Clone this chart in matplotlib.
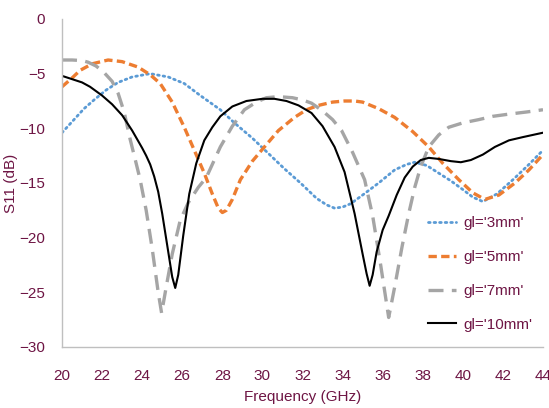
import matplotlib
matplotlib.use("Agg")
import matplotlib.pyplot as plt

# ---- data ----
x_3mm = [20, 20.6, 21.1, 21.6, 22.2, 22.8, 23.5, 24.4, 25.3, 26.1, 26.9, 27.9, 28.6, 29.5,
         30.3, 31.1, 31.9, 32.7, 33.2, 33.6, 34.0, 34.4, 35.0, 35.8, 36.6, 37.2, 37.6, 38.2, 38.8, 39.4, 40.0,
         40.5, 41.0, 41.7, 42.5, 43.3, 44.0]
y_3mm = [-10.4, -9.2, -8.2, -7.4, -6.5, -5.8, -5.3, -5.0, -5.3, -5.9, -7.0, -8.3, -9.5, -10.9,
         -12.3, -13.7, -15.0, -16.4, -17.0, -17.3, -17.2, -16.9, -16.1, -15.0, -13.8, -13.3, -13.1, -13.4, -14.1, -14.8, -15.6,
         -16.3, -16.7, -16.0, -14.7, -13.3, -12.0]

x_5mm = [20, 20.5, 20.9, 21.5, 22.3, 23.0, 23.8, 24.4, 24.9, 25.5, 26.1, 26.6, 27.1, 27.5,
         27.8, 28.0, 28.2, 28.5, 28.9, 29.5, 30.1, 30.8, 31.6, 32.2, 32.8, 33.5, 34.1, 34.6, 35.0, 35.8,
         36.6, 37.5, 38.3, 39.0, 39.8, 40.5, 41.1, 41.8, 42.6, 43.3, 44.0]
y_5mm = [-6.2, -5.4, -4.7, -4.1, -3.75, -3.9, -4.4, -5.1, -5.9, -7.6, -9.9, -12.0, -14.1, -16.0,
         -17.3, -17.7, -17.5, -16.5, -14.7, -13.0, -11.7, -10.2, -9.0, -8.3, -7.9, -7.6, -7.5, -7.5, -7.6, -8.2,
         -9.0, -10.3, -11.7, -13.2, -14.7, -15.9, -16.5, -16.1, -15.0, -13.8, -12.4]

x_7mm = [20, 20.5, 21.0, 21.3, 21.7, 22.1, 22.5, 22.8, 23.1, 23.4, 23.7, 23.9, 24.2, 24.5,
         24.8, 24.97, 25.2, 25.5, 25.9, 26.3, 26.8, 27.2, 27.5, 27.9, 28.5, 29.1, 29.7, 30.2,
         30.8, 31.5, 32.0, 32.45, 33.0, 33.5, 33.95, 34.5, 35.1, 35.5, 35.9, 36.3, 36.6, 36.97,
         37.3, 37.6, 37.9, 38.3, 38.8, 39.3, 40.0, 40.8, 41.5, 42.3, 43.2, 44.0]
y_7mm = [-3.75, -3.75, -3.8, -3.95, -4.3, -4.9, -5.7, -6.8, -8.5, -11.0, -13.2, -14.7, -17.5, -21.0,
         -25.0, -26.9, -24.5, -21.5, -18.4, -16.8, -15.4, -14.5, -13.3, -11.7, -9.8, -8.3, -7.6, -7.2,
         -7.1, -7.2, -7.4, -7.7, -8.4, -9.2, -10.2, -12.2, -14.7, -18.0, -22.5, -27.3, -24.5, -20.8,
         -17.8, -15.4, -13.5, -11.7, -10.6, -9.9, -9.5, -9.2, -8.9, -8.7, -8.5, -8.3]

x_10mm = [20, 21.0, 21.4, 22.0, 22.5, 23.0, 23.5, 24.0, 24.2, 24.4, 24.6, 24.8, 25.0, 25.25,
          25.5, 25.65, 25.8, 26.05, 26.35, 26.7, 27.1, 27.5, 27.9, 28.5, 29.2, 30.0, 30.6, 31.2,
          31.8, 32.45, 33.0, 33.6, 34.1, 34.6, 35.0, 35.2, 35.35, 35.5, 35.7, 36.0, 36.3, 36.7,
          37.1, 37.5, 37.9, 38.3, 38.8, 39.4, 39.9, 40.4, 41.0, 41.6, 42.3, 43.0, 43.5, 44.0]
y_10mm = [-5.2, -5.8, -6.2, -7.0, -7.8, -8.8, -10.2, -11.8, -12.5, -13.3, -14.4, -15.8, -17.8, -20.7,
          -23.6, -24.6, -23.4, -19.8, -16.0, -13.2, -11.1, -9.9, -8.9, -8.0, -7.5, -7.3, -7.3, -7.5,
          -7.9, -8.6, -9.8, -11.7, -14.0, -17.8, -21.5, -23.3, -24.4, -23.4, -21.3, -19.3, -18.0, -16.1,
          -14.5, -13.5, -12.9, -12.7, -12.8, -13.0, -13.1, -12.9, -12.4, -11.7, -11.1, -10.8, -10.6, -10.4]

labels = ["gl='3mm'", "gl='5mm'", "gl='7mm'", "gl='10mm'"]
x_ticks = list(range(20, 45, 2))
y_ticks = list(range(-30, 1, 5))

# ---- style ----
TXT = "#6E1544"
plt.rcParams['font.family'] = ['Liberation Sans', 'DejaVu Sans']
FS = 11

fig = plt.figure(figsize=(5.49, 4.08), dpi=100)
ax = fig.add_axes([62/549, 61/408, 481/549, 328/408])

ax.plot(x_3mm, y_3mm, color="#5B9BD5", lw=2.0, linestyle=(0, (0.6, 1.4)),
        dash_capstyle='round', label=labels[0])
ax.plot(x_5mm, y_5mm, color="#ED7D31", lw=2.4, linestyle=(0, (2.5, 1.3)), label=labels[1])
ax.plot(x_7mm, y_7mm, color="#A5A5A5", lw=2.4, linestyle=(0, (4.5, 2.5)), label=labels[2])
ax.plot(x_10mm, y_10mm, color="black", lw=1.5, linestyle='-', label=labels[3])

ax.set_xlim(20, 44)
ax.set_ylim(-30, 0)
ax.set_xticks(x_ticks)
ax.set_yticks(y_ticks)
ax.tick_params(axis='both', length=0, labelsize=FS, colors=TXT)
ax.tick_params(axis='x', pad=16)
ax.tick_params(axis='y', pad=12)
for s in ['top', 'right']:
    ax.spines[s].set_visible(False)
for s in ['left', 'bottom']:
    ax.spines[s].set_color('#BFBFBF')
    ax.spines[s].set_linewidth(1.0)

ax.set_xlabel("Frequency (GHz)", fontsize=FS, color=TXT, labelpad=5)
ax.set_ylabel("S11 (dB)", fontsize=FS, color=TXT, labelpad=1)

leg = ax.legend(loc='center left', bbox_to_anchor=(428/549, (408-274)/408),
                bbox_transform=fig.transFigure, frameon=False, fontsize=FS,
                labelspacing=1.3, handlelength=1.8, handletextpad=0.5,
                borderpad=0, borderaxespad=0)
for t in leg.get_texts():
    t.set_color(TXT)

fig.savefig("out.png", dpi=100)
